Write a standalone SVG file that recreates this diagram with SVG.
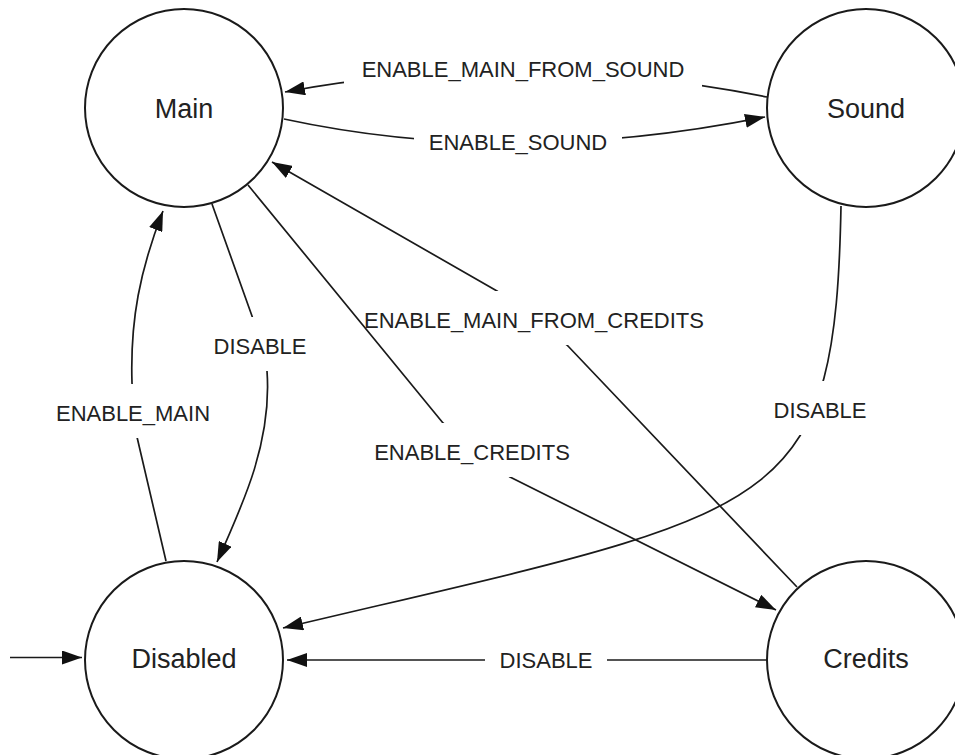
<svg xmlns="http://www.w3.org/2000/svg" width="955" height="755" viewBox="0 0 955 755">
  <style>
    .node circle { fill: #ffffff; stroke: #1a1a1a; stroke-width: 2; }
    .node text { font-family: "Liberation Sans", Arial, Helvetica, sans-serif; font-size: 27px; fill: #222222; text-anchor: middle; }
    .edge { fill: none; stroke: #1a1a1a; stroke-width: 1.7; stroke-linejoin: round; }
    .arrow { marker-end: url(#head); }
    .label { font-family: "Liberation Sans", Arial, Helvetica, sans-serif; font-size: 22px; fill: #222222; text-anchor: middle; }
  </style>
  <defs>
    <marker id="head" viewBox="0 0 20 14" markerWidth="20" markerHeight="14" refX="20" refY="7" orient="auto" markerUnits="userSpaceOnUse">
      <path d="M0,0 L20,7 L0,14 Z" fill="#111111"/>
    </marker>
    <!-- each mask opens a gap in its own edge where the label sits -->
    <mask id="gapMainFromSound" maskUnits="userSpaceOnUse" x="0" y="0" width="955" height="755">
      <rect width="955" height="755" fill="#fff"/>
      <rect x="344" y="40" width="358" height="54" fill="#000"/>
    </mask>
    <mask id="gapSound" maskUnits="userSpaceOnUse" x="0" y="0" width="955" height="755">
      <rect width="955" height="755" fill="#fff"/>
      <rect x="414" y="114" width="208" height="54" fill="#000"/>
    </mask>
    <mask id="gapMainDisable" maskUnits="userSpaceOnUse" x="0" y="0" width="955" height="755">
      <rect width="955" height="755" fill="#fff"/>
      <rect x="199" y="317" width="122" height="54" fill="#000"/>
    </mask>
    <mask id="gapEnableMain" maskUnits="userSpaceOnUse" x="0" y="0" width="955" height="755">
      <rect width="955" height="755" fill="#fff"/>
      <rect x="41" y="384" width="185" height="54" fill="#000"/>
    </mask>
    <mask id="gapMainFromCredits" maskUnits="userSpaceOnUse" x="0" y="0" width="955" height="755">
      <rect width="955" height="755" fill="#fff"/>
      <rect x="349" y="291" width="371" height="54" fill="#000"/>
    </mask>
    <mask id="gapCredits" maskUnits="userSpaceOnUse" x="0" y="0" width="955" height="755">
      <rect width="955" height="755" fill="#fff"/>
      <rect x="361" y="423" width="223" height="54" fill="#000"/>
    </mask>
    <mask id="gapSoundDisable" maskUnits="userSpaceOnUse" x="0" y="0" width="955" height="755">
      <rect width="955" height="755" fill="#fff"/>
      <rect x="759" y="381" width="122" height="54" fill="#000"/>
    </mask>
    <mask id="gapCreditsDisable" maskUnits="userSpaceOnUse" x="0" y="0" width="955" height="755">
      <rect width="955" height="755" fill="#fff"/>
      <rect x="485" y="631" width="122" height="54" fill="#000"/>
    </mask>
  </defs>

  <g id="edges">
    <!-- Sound -> Main -->
    <path class="edge arrow" mask="url(#gapMainFromSound)" d="M767,97 Q520,48 285,92"/>
    <text class="label" x="523" y="77">ENABLE_MAIN_FROM_SOUND</text>
    <!-- Main -> Sound -->
    <path class="edge arrow" mask="url(#gapSound)" d="M284,119 Q511,168 765,117"/>
    <text class="label" x="518" y="150">ENABLE_SOUND</text>
    <!-- Main -> Disabled -->
    <path class="edge arrow" mask="url(#gapMainDisable)" d="M212,204 L252,316 L267,371 C272,440 245,500 217,562"/>
    <text class="label" x="260" y="354">DISABLE</text>
    <!-- Disabled -> Main -->
    <path class="edge arrow" mask="url(#gapEnableMain)" d="M166,561 L137,437 L132,383 C130,320 140,270 163,211"/>
    <text class="label" x="133" y="421">ENABLE_MAIN</text>
    <!-- Credits -> Main -->
    <path class="edge arrow" mask="url(#gapMainFromCredits)" d="M797,587 L567,345 L497,291 L272,162"/>
    <text class="label" x="534" y="328">ENABLE_MAIN_FROM_CREDITS</text>
    <!-- Main -> Credits -->
    <path class="edge arrow" mask="url(#gapCredits)" d="M248,185 L443,423 L510,477 L776,610"/>
    <text class="label" x="472" y="460">ENABLE_CREDITS</text>
    <!-- Sound -> Disabled -->
    <path class="edge arrow" mask="url(#gapSoundDisable)" d="M841,206 C835,520 780,510 283,628"/>
    <text class="label" x="820" y="418">DISABLE</text>
    <!-- Credits -> Disabled -->
    <path class="edge arrow" mask="url(#gapCreditsDisable)" d="M767,660 L287,660"/>
    <text class="label" x="546" y="668">DISABLE</text>
    <!-- initial state -->
    <path class="edge arrow" d="M10,657.5 L82,657.5"/>
  </g>

  <g id="main" class="node">
    <circle cx="184" cy="108" r="99"/>
    <text x="184" y="118">Main</text>
  </g>
  <g id="sound" class="node">
    <circle cx="866" cy="108" r="99"/>
    <text x="866" y="118">Sound</text>
  </g>
  <g id="disabled" class="node">
    <circle cx="184" cy="660" r="99"/>
    <text x="184" y="668">Disabled</text>
  </g>
  <g id="credits" class="node">
    <circle cx="866" cy="660" r="99"/>
    <text x="866" y="668">Credits</text>
  </g>
</svg>
